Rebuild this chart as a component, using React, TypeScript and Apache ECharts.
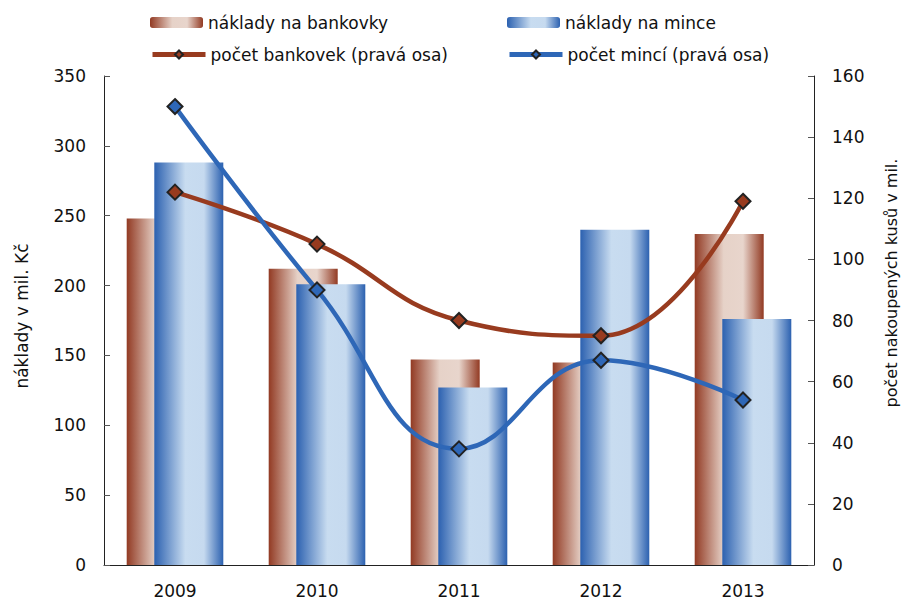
import React, { useEffect, useRef } from "react";
import * as echarts from "echarts";

const years = ["2009", "2010", "2011", "2012", "2013"];
const nakladyBankovky = [248, 212, 147, 145, 237];
const nakladyMince = [288, 201, 127, 240, 176];
const pocetBankovek = [122, 105, 80, 75, 119];
const pocetminci = [150, 90, 38, 67, 54];

const FONT = "DejaVu Sans";
const FS = 17;
const LFS = 17;

const brownGrad = new echarts.graphic.LinearGradient(0, 0, 1, 0, [
  { offset: 0, color: "#923a23" },
  { offset: 0.42, color: "#e6d2c8" },
  { offset: 0.7, color: "#e8d5cc" },
  { offset: 1, color: "#923a23" },
]);
const blueGrad = new echarts.graphic.LinearGradient(0, 0, 1, 0, [
  { offset: 0, color: "#2c61b0" },
  { offset: 0.45, color: "#c8dcf0" },
  { offset: 0.72, color: "#c6daef" },
  { offset: 1, color: "#2c61b0" },
]);

export default function App() {
  const ref = useRef<HTMLDivElement>(null);
  useEffect(() => {
    if (!ref.current) return;
    const chart = echarts.init(ref.current, undefined, { renderer: "svg" });
    const barLegend = {
      orient: "horizontal",
      padding: 0,
      itemWidth: 53,
      itemHeight: 11,
      itemGap: 0,
      textStyle: { fontFamily: FONT, fontSize: LFS, color: "#111", padding: [0, 0, 0, 0] },
      selectedMode: false,
    };
    const lineLegend = {
      ...barLegend,
      itemHeight: 10,
      lineStyle: { width: 5 },
    };
    chart.setOption({
      animation: false,
      textStyle: { fontFamily: FONT },
      legend: [
        { ...barLegend, data: ["náklady na bankovky"], left: 150, top: 14 },
        { ...barLegend, data: ["náklady na mince"], left: 507, top: 14 },
        { ...lineLegend, data: ["počet bankovek (pravá osa)"], left: 150, top: 46 },
        { ...lineLegend, data: ["počet mincí (pravá osa)"], left: 507, top: 46 },
      ],
      grid: { left: 104, right: 88, top: 76, bottom: 33 },
      xAxis: {
        type: "category",
        data: years,
        axisLine: { lineStyle: { color: "#222", width: 1 } },
        axisTick: { show: false },
        axisLabel: { fontFamily: FONT, fontSize: FS, color: "#111", margin: 17 },
      },
      yAxis: [
        {
          type: "value",
          min: 0,
          max: 350,
          interval: 50,
          splitLine: { show: false },
          axisLine: { show: true, lineStyle: { color: "#222", width: 1 } },
          axisTick: { show: true, inside: true, length: 6, lineStyle: { color: "#555" } },
          axisLabel: { fontFamily: FONT, fontSize: FS, color: "#111", margin: 18 },
        },
        {
          type: "value",
          min: 0,
          max: 160,
          interval: 20,
          splitLine: { show: false },
          axisLine: { show: true, lineStyle: { color: "#222", width: 1 } },
          axisTick: { show: true, inside: true, length: 6, lineStyle: { color: "#555" } },
          axisLabel: { fontFamily: FONT, fontSize: FS, color: "#111", margin: 18 },
        },
      ],
      graphic: [
        {
          type: "text",
          x: 22,
          y: 316,
          rotation: Math.PI / 2,
          style: {
            text: "náklady v mil. Kč",
            fontFamily: FONT,
            fontSize: FS,
            fill: "#111",
            align: "center",
            verticalAlign: "middle",
          },
        },
        {
          type: "text",
          x: 891,
          y: 283,
          rotation: Math.PI / 2,
          style: {
            text: "počet nakoupených kusů v mil.",
            fontFamily: FONT,
            fontSize: 16,
            fill: "#111",
            align: "center",
            verticalAlign: "middle",
          },
        },
      ],
      series: [
        {
          name: "náklady na bankovky",
          type: "bar",
          data: nakladyBankovky,
          barWidth: 69,
          barGap: "-60%",
          itemStyle: { color: brownGrad },
        },
        {
          name: "náklady na mince",
          type: "bar",
          data: nakladyMince,
          barWidth: 69,
          itemStyle: { color: blueGrad },
        },
        {
          name: "počet bankovek (pravá osa)",
          type: "line",
          yAxisIndex: 1,
          data: pocetBankovek,
          smooth: 0.45,
          symbol: "diamond",
          symbolSize: 15,
          lineStyle: { color: "#983b1f", width: 4.5 },
          itemStyle: { color: "#983b1f", borderColor: "#222", borderWidth: 2 },
          z: 5,
        },
        {
          name: "počet mincí (pravá osa)",
          type: "line",
          yAxisIndex: 1,
          data: pocetminci,
          smooth: 0.45,
          symbol: "diamond",
          symbolSize: 15,
          lineStyle: { color: "#2e67b7", width: 4.5 },
          itemStyle: { color: "#2e67b7", borderColor: "#222", borderWidth: 2 },
          z: 6,
        },
      ],
    });
    return () => chart.dispose();
  }, []);
  return <div ref={ref} style={{ width: 902, height: 599, position: "absolute", left: 0, top: 0 }} />;
}
